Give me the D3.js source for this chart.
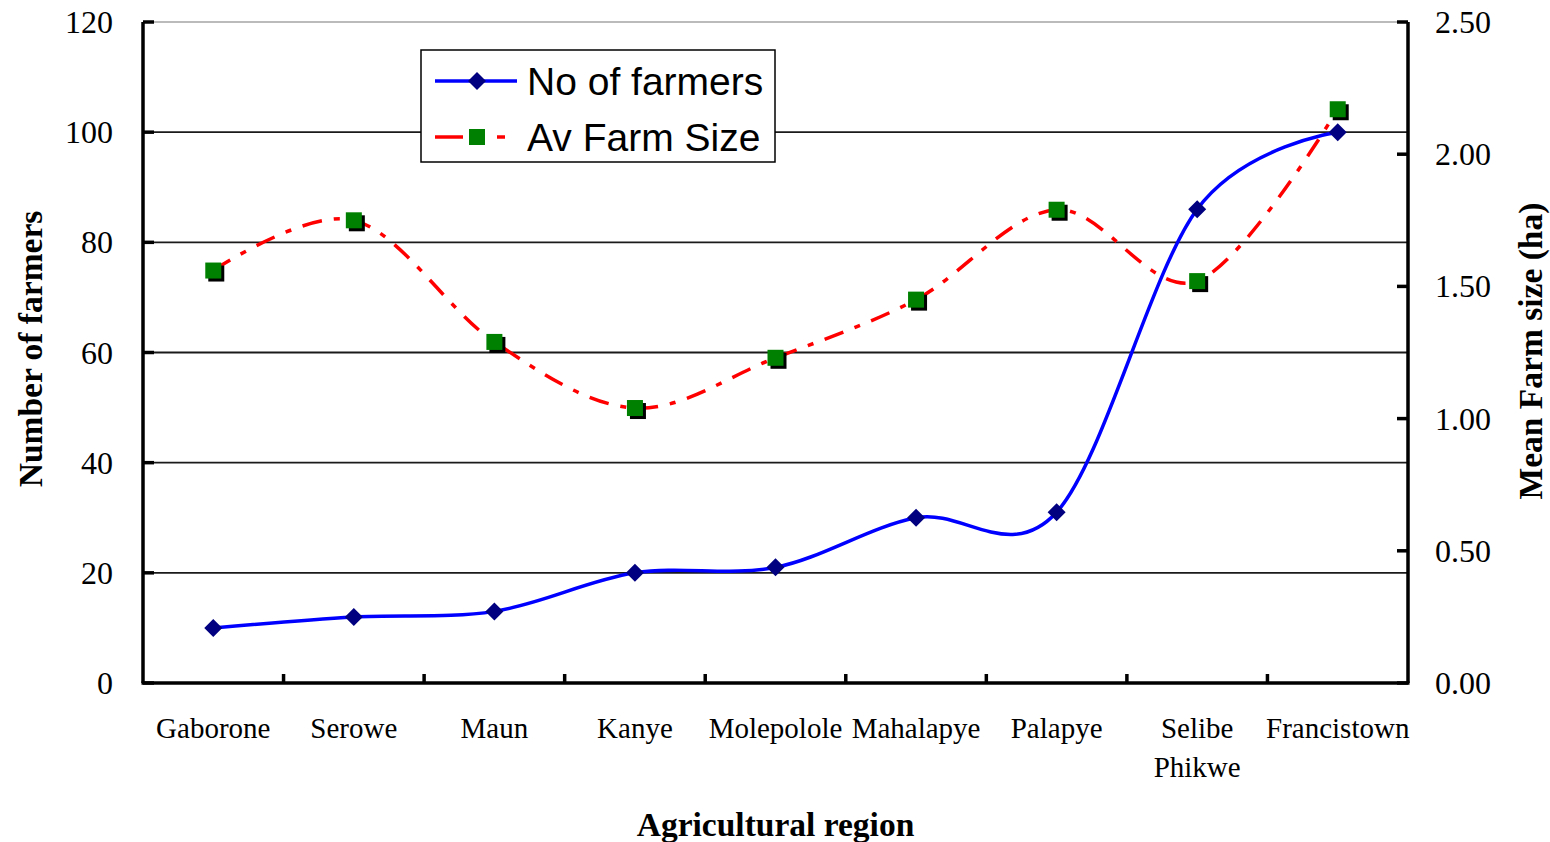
<!doctype html>
<html lang="en">
<head>
<meta charset="utf-8">
<title>Farmers by agricultural region</title>
<script src="https://d3js.org/d3.v7.min.js"></script>
<style>
  body { margin: 0; background: #fff; }
  .tick-label { font-family: "Liberation Serif", "Times New Roman", serif; font-size: 29px; fill: #000; }
  .num-label { font-family: "Liberation Serif", "Times New Roman", serif; font-size: 32px; fill: #000; }
  .axis-title { font-family: "Liberation Serif", "Times New Roman", serif; font-size: 33.5px; font-weight: bold; fill: #000; }
  .legend-text { font-family: "Liberation Sans", Arial, sans-serif; font-size: 39px; fill: #000; }
</style>
</head>
<body>
<div id="chart"></div>
<script>
// data
var regions = ["Gaborone", "Serowe", "Maun", "Kanye", "Molepolole", "Mahalapye", "Palapye", "Selibe Phikwe", "Francistown"];
var farmers = [10, 12, 13, 20, 21, 30, 31, 86, 100];
var farmSize = [1.56, 1.75, 1.29, 1.04, 1.23, 1.45, 1.79, 1.52, 2.17];
var leftTicks = [0, 20, 40, 60, 80, 100, 120];
var rightTicks = [0, 0.5, 1.0, 1.5, 2.0, 2.5];

var W = 1550, H = 842;
var margin = {top: 22, right: 142, bottom: 159, left: 143};
var width = W - margin.left - margin.right,
    height = H - margin.top - margin.bottom;

var svg = d3.select("#chart").append("svg")
    .attr("width", W)
    .attr("height", H);

var g = svg.append("g")
    .attr("transform", "translate(" + margin.left + "," + margin.top + ")");

var x = d3.scaleBand().domain(regions).range([0, width]);
var y = d3.scaleLinear().domain([0, 120]).range([height, 0]);
var y2 = d3.scaleLinear().domain([0, 2.5]).range([height, 0]);
var cx = function(d) { return x(d) + x.bandwidth() / 2; };

// gridlines
g.selectAll(".grid").data(leftTicks.slice(1)).enter()
  .append("line")
    .attr("x1", 0).attr("x2", width)
    .attr("y1", function(d) { return y(d); })
    .attr("y2", function(d) { return y(d); })
    .attr("stroke", function(d) { return d == 120 ? "#bbb" : "#1a1a1a"; })
    .attr("stroke-width", 1.8);

// axes lines
var axisStroke = 3.5;
g.append("line").attr("x1", 0).attr("x2", 0).attr("y1", 0).attr("y2", height)
  .attr("stroke", "#000").attr("stroke-width", axisStroke);
g.append("line").attr("x1", width).attr("x2", width).attr("y1", 0).attr("y2", height)
  .attr("stroke", "#000").attr("stroke-width", axisStroke);
g.append("line").attr("x1", -1.5).attr("x2", width + 1.5).attr("y1", height).attr("y2", height)
  .attr("stroke", "#000").attr("stroke-width", axisStroke);

// left ticks (inward)
g.selectAll(".lt").data(leftTicks).enter().append("line")
  .attr("x1", 0).attr("x2", 11)
  .attr("y1", function(d) { return y(d); }).attr("y2", function(d) { return y(d); })
  .attr("stroke", "#000").attr("stroke-width", axisStroke);
g.selectAll(".ll").data(leftTicks).enter().append("text")
  .attr("class", "num-label")
  .attr("x", -30).attr("y", function(d) { return y(d) + 11; })
  .attr("text-anchor", "end")
  .text(function(d) { return d; });

// right ticks (inward)
g.selectAll(".rt").data(rightTicks).enter().append("line")
  .attr("x1", width - 11).attr("x2", width)
  .attr("y1", function(d) { return y2(d); }).attr("y2", function(d) { return y2(d); })
  .attr("stroke", "#000").attr("stroke-width", axisStroke);
g.selectAll(".rl").data(rightTicks).enter().append("text")
  .attr("class", "num-label")
  .attr("x", width + 27).attr("y", function(d) { return y2(d) + 11; })
  .text(function(d) { return d3.format(".2f")(d); });

// x ticks at band edges (upward)
var edges = regions.slice(1).map(function(r) { return x(r); });
g.selectAll(".xt").data(edges).enter().append("line")
  .attr("x1", function(d) { return d; }).attr("x2", function(d) { return d; })
  .attr("y1", height - 9).attr("y2", height)
  .attr("stroke", "#000").attr("stroke-width", axisStroke);

// x labels
g.selectAll(".xl").data(regions).enter().append("text")
  .attr("class", "tick-label")
  .attr("text-anchor", "middle")
  .attr("y", height + 55)
  .each(function(d) {
    var parts = d == "Selibe Phikwe" ? ["Selibe", "Phikwe"] : [d];
    var t = d3.select(this);
    parts.forEach(function(p, i) {
      t.append("tspan").attr("x", cx(d)).attr("dy", i == 0 ? 0 : 39).text(p);
    });
  });

// axis titles
svg.append("text").attr("class", "axis-title")
  .attr("x", margin.left + width / 2).attr("y", 836)
  .attr("text-anchor", "middle").text("Agricultural region");
svg.append("text").attr("class", "axis-title")
  .attr("transform", "translate(42," + (margin.top + 327) + ") rotate(-90)")
  .attr("text-anchor", "middle").text("Number of farmers");
svg.append("text").attr("class", "axis-title")
  .attr("transform", "translate(1542," + (margin.top + 329) + ") rotate(-90)")
  .attr("text-anchor", "middle").text("Mean Farm size (ha)");

// lines
var curve = d3.curveCardinal.tension(0);
var lineFarmers = d3.line()
  .x(function(d, i) { return cx(regions[i]); })
  .y(function(d) { return y(d); })
  .curve(curve);
var lineSize = d3.line()
  .x(function(d, i) { return cx(regions[i]); })
  .y(function(d) { return y2(d); })
  .curve(curve);

g.append("path").datum(farmSize)
  .attr("d", lineSize)
  .attr("fill", "none").attr("stroke", "#ff0000").attr("stroke-width", 3.5)
  .attr("stroke-dasharray", "20,12,6,12");

g.append("path").datum(farmers)
  .attr("d", lineFarmers)
  .attr("fill", "none").attr("stroke", "#0000ff").attr("stroke-width", 3.5);

var diamond = function(px, py, r) {
  return "M" + px + "," + (py - r) + "L" + (px + r) + "," + py + "L" + px + "," + (py + r) + "L" + (px - r) + "," + py + "Z";
};

// square markers with shadow
g.selectAll(".sqs").data(farmSize).enter().append("rect")
  .attr("x", function(d, i) { return cx(regions[i]) - 8 + 3; })
  .attr("y", function(d) { return y2(d) - 8 + 3; })
  .attr("width", 16).attr("height", 16).attr("fill", "#000");
g.selectAll(".sq").data(farmSize).enter().append("rect")
  .attr("x", function(d, i) { return cx(regions[i]) - 8; })
  .attr("y", function(d) { return y2(d) - 8; })
  .attr("width", 16).attr("height", 16).attr("fill", "#008000");

// diamond markers
g.selectAll(".dm").data(farmers).enter().append("path")
  .attr("d", function(d, i) { return diamond(cx(regions[i]), y(d), 9); })
  .attr("fill", "#000080");

// legend
var lg = svg.append("g").attr("transform", "translate(421,50)");
lg.append("rect").attr("width", 354).attr("height", 112)
  .attr("fill", "#fff").attr("stroke", "#000").attr("stroke-width", 1.5);
lg.append("line").attr("x1", 14).attr("x2", 96).attr("y1", 31).attr("y2", 31)
  .attr("stroke", "#0000ff").attr("stroke-width", 3.5);
lg.append("path").attr("d", diamond(56, 31, 9)).attr("fill", "#000080");
lg.append("text").attr("class", "legend-text").attr("x", 106).attr("y", 45).text("No of farmers");

lg.append("line").attr("x1", 14).attr("x2", 42).attr("y1", 87).attr("y2", 87)
  .attr("stroke", "#ff0000").attr("stroke-width", 3.5);
lg.append("line").attr("x1", 76).attr("x2", 84).attr("y1", 87).attr("y2", 87)
  .attr("stroke", "#ff0000").attr("stroke-width", 3.5);
lg.append("rect").attr("x", 48).attr("y", 79).attr("width", 16).attr("height", 16).attr("fill", "#008000");
lg.append("text").attr("class", "legend-text").attr("x", 106).attr("y", 101).text("Av Farm Size");
</script>
</body>
</html>
